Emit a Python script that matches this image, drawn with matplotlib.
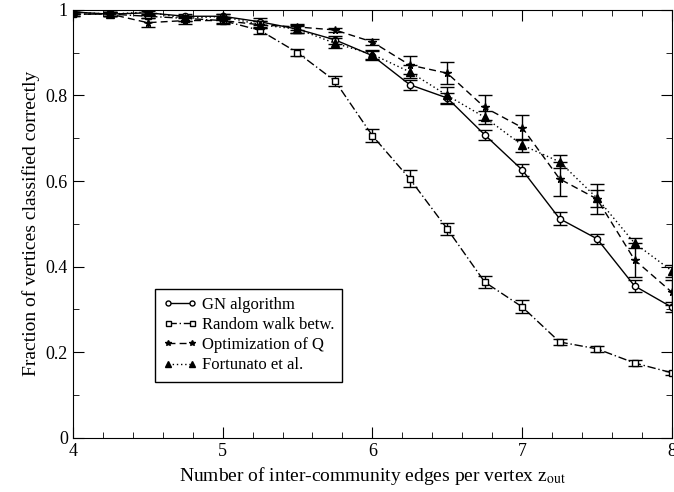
import numpy as np
import matplotlib.pyplot as plt
from matplotlib.lines import Line2D

plt.rcParams['font.family'] = ['Liberation Serif', 'DejaVu Serif']
plt.rcParams['mathtext.fontset'] = 'stix'

# Datos
z_out = [4.0, 4.25, 4.5, 4.75, 5.0, 5.25, 5.5, 5.75, 6.0, 6.25, 6.5, 6.75, 7.0, 7.25, 7.5, 7.75, 8.0]

gn = [0.995, 0.99, 0.993, 0.985, 0.985, 0.972, 0.955, 0.93, 0.893, 0.825, 0.794, 0.708,
      0.626, 0.512, 0.465, 0.355, 0.305]
gn_err = [0.004, 0.004, 0.005, 0.005, 0.005, 0.008, 0.008, 0.01, 0.01, 0.012, 0.012, 0.012,
          0.015, 0.015, 0.012, 0.015, 0.012]

rw = [0.99, 0.99, 0.985, 0.98, 0.975, 0.952, 0.90, 0.834, 0.706, 0.605, 0.488, 0.364,
      0.306, 0.224, 0.208, 0.175, 0.152]
rw_err = [0.004, 0.004, 0.004, 0.005, 0.005, 0.008, 0.008, 0.012, 0.015, 0.02, 0.015, 0.015,
          0.015, 0.008, 0.007, 0.006, 0.005]

opt_q = [0.99, 0.99, 0.97, 0.975, 0.975, 0.965, 0.96, 0.953, 0.925, 0.871, 0.852, 0.772,
         0.725, 0.605, 0.558, 0.416, 0.34]
opt_q_err = [0.004, 0.004, 0.01, 0.008, 0.008, 0.008, 0.006, 0.005, 0.008, 0.022, 0.025, 0.03,
             0.03, 0.04, 0.035, 0.04, 0.03]

fort = [0.995, 0.99, 0.995, 0.98, 0.985, 0.965, 0.955, 0.922, 0.896, 0.855, 0.80, 0.749,
        0.684, 0.645, 0.56, 0.455, 0.39]
fort_err = [0.004, 0.004, 0.005, 0.006, 0.006, 0.008, 0.01, 0.012, 0.01, 0.015, 0.02, 0.015,
            0.015, 0.015, 0.02, 0.012, 0.015]

etiquetas = ['GN algorithm', 'Random walk betw.', 'Optimization of Q', 'Fortunato et al.']

fig = plt.figure(figsize=(6.74, 4.92), dpi=100)
ax = fig.add_axes([0.108, 0.110, 0.889, 0.870])

# estilo de cada serie: (linea, marcador, tamaño, relleno)
estilos = [
    ((0, ()), 'o', 4.5, 'white'),
    ((0, (6, 2, 1, 2)), 's', 4.5, 'white'),
    ((0, (5, 3)), '*', 5.5, 'black'),
    ((0, (1, 2)), '^', 6, 'black'),
]
series = [(gn, gn_err), (rw, rw_err), (opt_q, opt_q_err), (fort, fort_err)]

manijas = []
for (y, err), (ls, mk, ms, mfc), lab in zip(series, estilos, etiquetas):
    ax.errorbar(z_out, y, yerr=err, fmt='none', ecolor='black', capsize=5,
                elinewidth=1.0, capthick=1.0)
    ax.plot(z_out, y, color='black', linestyle=ls, linewidth=1.0, marker=mk,
            ms=ms, mfc=mfc, mec='black', mew=1.0)
    manijas.append(Line2D([], [], color='black', linestyle=ls, linewidth=1.0, marker=mk,
                          ms=ms * 0.8, mfc=mfc, mec='black', mew=1.0, label=lab))

ax.set_xlim(4, 8)
ax.set_ylim(0, 1)
ax.set_xticks([4, 5, 6, 7, 8])
ax.set_xticks(np.arange(4, 8.01, 0.2), minor=True)
ax.set_yticks([0, 0.2, 0.4, 0.6, 0.8, 1.0])
ax.set_yticklabels(['0', '0.2', '0.4', '0.6', '0.8', '1'])
ax.set_yticks(np.arange(0, 1.01, 0.1), minor=True)
ax.tick_params(which='both', direction='in', top=True, right=True, labelsize=13)
ax.tick_params(which='major', length=8)
ax.tick_params(which='minor', length=4)

ax.set_xlabel(r'Number of inter-community edges per vertex z$_{\mathrm{out}}$', fontsize=14)
ax.set_ylabel('Fraction of vertices classified correctly', fontsize=14)

leg = ax.legend(handles=manijas, loc='lower left', bbox_to_anchor=(0.137, 0.131),
                borderaxespad=0, fancybox=False, edgecolor='black', framealpha=1,
                fontsize=12, numpoints=2, handlelength=2.0, handletextpad=0.3,
                labelspacing=0.25, borderpad=0.5)
leg.get_frame().set_linewidth(1.0)

fig.savefig('out.png', dpi=100)
